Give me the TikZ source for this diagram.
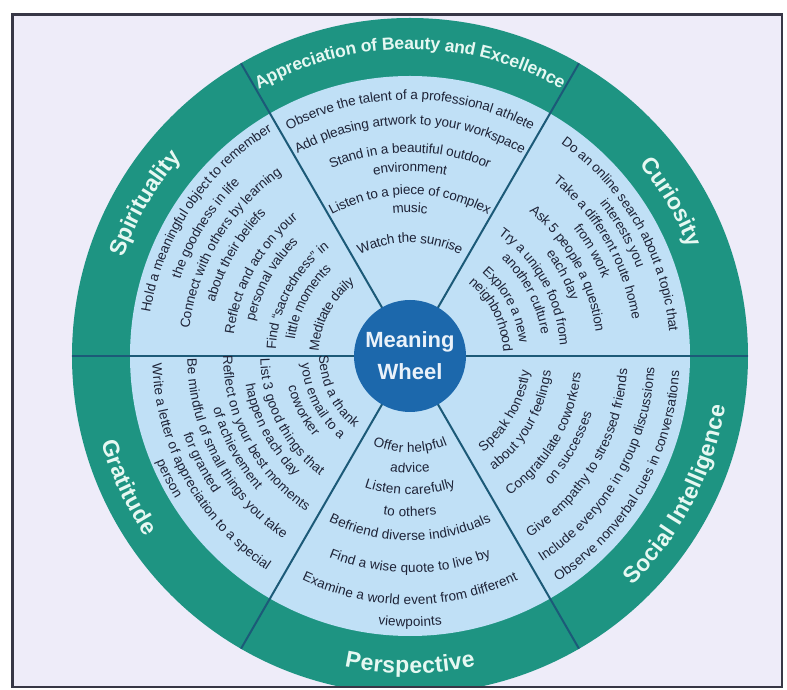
\documentclass[tikz,border=0pt]{standalone}
\usepackage{fontspec}
\setmainfont{Liberation Sans}
\usetikzlibrary{decorations.text}

\definecolor{framebg}{RGB}{238,236,249}
\definecolor{framecol}{RGB}{55,55,70}
\definecolor{ringteal}{RGB}{30,148,130}
\definecolor{innerblue}{RGB}{192,224,246}
\definecolor{divcol}{RGB}{28,90,120}
\definecolor{hubblue}{RGB}{28,104,172}
\definecolor{hubtext}{RGB}{234,242,250}
\definecolor{itemcol}{RGB}{30,35,55}
\definecolor{ringtext}{RGB}{230,248,242}

\newcommand{\itemfont}{\fontsize{13.5}{16}\selectfont}
\newcommand{\ringfont}{\fontsize{23}{28}\selectfont\bfseries}
\newcommand{\topfont}{\fontsize{17.5}{21}\selectfont\bfseries}

% text on an arc: style, format, radius, mid angle, text
\newcommand{\arcw}[5]{\path[decorate,#1,decoration={text along path,text align=center,text={|#2|#5}}]
  (#4+80:#3pt) arc[start angle=#4+80,end angle=#4-80,radius=#3pt];}
\newcommand{\arccw}[5]{\path[decorate,#1,decoration={text along path,text align=center,text={|#2|#5}}]
  (#4-80:#3pt) arc[start angle=#4-80,end angle=#4+80,radius=#3pt];}
\newcommand{\cwitem}[3]{\arcw{item}{\itemfont\color{itemcol}}{#1}{#2}{#3}}
\newcommand{\ccwitem}[3]{\arccw{item}{\itemfont\color{itemcol}}{#1}{#2}{#3}}
\newcommand{\cwlabel}[3]{\arcw{ring}{\ringfont\color{ringtext}}{#1}{#2}{#3}}
\newcommand{\ccwlabel}[3]{\arccw{ring}{\ringfont\color{ringtext}}{#1}{#2}{#3}}

\begin{document}
\begin{tikzpicture}[x=1pt,y=1pt,
  item/.style={decoration={raise=-4.7pt}},
  ring/.style={decoration={raise=-8.2pt}},
  ringsmall/.style={decoration={raise=-6.2pt}},
  divider/.style={draw=divcol,line width=2pt},
  hub/.style={circle,fill=hubblue,minimum size=112pt,inner sep=0pt,align=center,
    text=hubtext,font=\fontsize{22}{32}\selectfont\bfseries}]
	% frame
	\path[use as bounding box,fill=white] (-410,-334) rectangle (377,356);
	\fill[framebg] (-397.5,-331) rectangle (372,341.5);
	\begin{scope}
		\clip (-397.5,-331) rectangle (372,341.5);
		% wheel
		\fill[ringteal] (0,0) circle[radius=338pt];
		\fill[innerblue] (0,0) circle[radius=280pt];
		\foreach \a in {0,60,...,300}
		\draw[divider] (0,0) -- (\a:338pt);
		\node[hub] (hub) at (0,0) {Meaning\\Wheel};
		% Appreciation of Beauty and Excellence
		\arcw{ringsmall}{\topfont\color{ringtext}}{313}{90}{Appreciation of Beauty and Excellence}
		\cwitem{261}{90}{Observe the talent of a professional athlete}
		\cwitem{236}{90}{Add pleasing artwork to your workspace}
		\cwitem{208}{90}{Stand in a beautiful outdoor}
		\cwitem{189}{90}{environment}
		\cwitem{166}{90}{Listen to a piece of complex}
		\cwitem{148}{90}{music}
		\cwitem{118}{90}{Watch the sunrise}
		% Curiosity
		\cwlabel{307}{30.5}{Curiosity}
		\cwitem{265}{30}{Do an online search about a topic that}
		\cwitem{248}{30}{interests you}
		\cwitem{230}{30}{Take a different route home}
		\cwitem{212}{30}{from work}
		\cwitem{192}{29}{Ask 5 people a question}
		\cwitem{175}{28}{each day}
		\cwitem{155}{29}{Try a unique food from}
		\cwitem{138}{28}{another culture}
		\cwitem{115}{28}{Explore a new}
		\cwitem{98}{27}{neighborhood}
		% Spirituality
		\cwlabel{311}{150}{Spirituality}
		\cwitem{268}{146}{Hold a meaningful object to remember}
		\cwitem{247}{148}{the goodness in life}
		\cwitem{227}{149}{Connect with others by learning}
		\cwitem{207}{150}{about their beliefs}
		\cwitem{182}{151}{Reflect and act on your}
		\cwitem{164}{151}{personal values}
		\cwitem{139}{152}{Find “sacredness” in}
		\cwitem{121}{152}{little moments}
		\cwitem{96}{152}{Meditate daily}
		% Gratitude
		\ccwlabel{312}{205}{Gratitude}
		\ccwitem{86}{206}{Send a thank}
		\ccwitem{104}{207}{you email to a}
		\ccwitem{121}{207}{coworker}
		\ccwitem{145}{207}{List 3 good things that}
		\ccwitem{162}{208}{happen each day}
		\ccwitem{182}{208}{Reflect on your best moments}
		\ccwitem{199}{208}{of achievement}
		\ccwitem{218}{208}{Be mindful of small things you take}
		\ccwitem{235}{207}{for granted}
		\ccwitem{253}{209}{Write a letter of appreciation to a special}
		\ccwitem{270}{207}{person}
		% Perspective
		\ccwlabel{309}{270}{Perspective}
		\ccwitem{92}{270}{Offer helpful}
		\ccwitem{112}{270}{advice}
		\ccwitem{134}{270}{Listen carefully}
		\ccwitem{156}{270}{to others}
		\ccwitem{180}{270}{Befriend diverse individuals}
		\ccwitem{212}{270}{Find a wise quote to live by}
		\ccwitem{244}{270}{Examine a world event from different}
		\ccwitem{266}{270}{viewpoints}
		% Social Intelligence
		\ccwlabel{311}{332.5}{Social Intelligence}
		\ccwitem{116}{330}{Speak honestly}
		\ccwitem{137}{330}{about your feelings}
		\ccwitem{167}{330}{Congratulate coworkers}
		\ccwitem{186}{330}{on successes}
		\ccwitem{213}{330}{Give empathy to stressed friends}
		\ccwitem{240}{330}{Include everyone in group discussions}
		\ccwitem{265}{330}{Observe nonverbal cues in conversations}
	\end{scope}
	\draw[framecol,line width=2.5pt] (-397.5,-331) rectangle (372,341.5);
\end{tikzpicture}
\end{document}
